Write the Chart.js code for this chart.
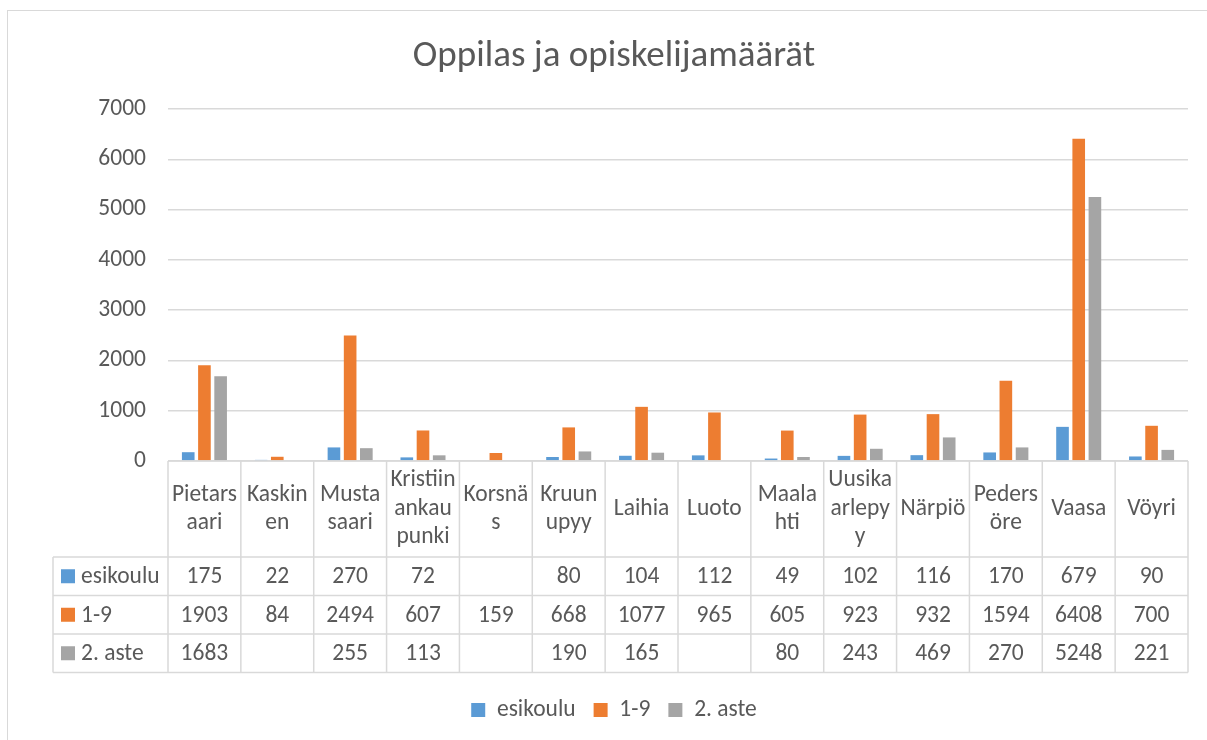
<!DOCTYPE html>
<html>
<head>
<meta charset="utf-8">
<title>Oppilas ja opiskelijamäärät</title>
<script src="https://cdn.jsdelivr.net/npm/chart.js@4.4.0/dist/chart.umd.min.js"></script>
<style>
  html, body { margin: 0; padding: 0; background: #fff; overflow: hidden; width: 1207px; height: 740px; }
  #frame { position: absolute; left: 7px; top: 10px; width: 1212px; height: 760px; border: 1px solid #d9d9d9; }
  #chart { position: absolute; left: 0; top: 0; }
</style>
</head>
<body>
<div id="frame"><canvas id="chart" width="1212" height="729"></canvas></div>
<script>
const categories = [
  ['Pietars', 'aari'], ['Kaskin', 'en'], ['Musta', 'saari'], ['Kristiin', 'ankau', 'punki'],
  ['Korsnä', 's'], ['Kruun', 'upyy'], ['Laihia'], ['Luoto'], ['Maala', 'hti'],
  ['Uusika', 'arlepy', 'y'], ['Närpiö'], ['Peders', 'öre'], ['Vaasa'], ['Vöyri']
];
const seriesNames = ['esikoulu', '1-9', '2. aste'];
const esikoulu = [175, 22, 270, 72, null, 80, 104, 112, 49, 102, 116, 170, 679, 90];
const luokat19 = [1903, 84, 2494, 607, 159, 668, 1077, 965, 605, 923, 932, 1594, 6408, 700];
const toinenAste = [1683, null, 255, 113, null, 190, 165, null, 80, 243, 469, 270, 5248, 221];
const yTicks = [0, 1000, 2000, 3000, 4000, 5000, 6000, 7000];
const colors = ['#5B9BD5', '#ED7D31', '#A5A5A5'];

const TEXT = '#595959';
const LINE = '#d9d9d9';
const FONT = 'Calibri, Carlito, Lato, "Open Sans", sans-serif';
const FS = 23.5;

Chart.defaults.font.family = FONT;
Chart.defaults.font.size = FS;
Chart.defaults.color = TEXT;

// --- data table under the plot, columns follow the x scale ---
const dataTable = {
  id: 'dataTable',
  afterDraw(chart) {
    const { ctx, chartArea } = chart;
    const x = chart.scales.x;
    const n = categories.length;
    const step = (x.right - x.left) / n;
    const top = chartArea.bottom;
    const headBottom = top + 96;
    const rowH = 38.5;
    const tableLeft = 45;
    const bottom = headBottom + rowH * seriesNames.length;
    const rows = [esikoulu, luokat19, toinenAste];

    ctx.save();
    ctx.strokeStyle = LINE;
    ctx.lineWidth = 1.5;
    ctx.beginPath();
    ctx.moveTo(x.left, top); ctx.lineTo(x.right, top);
    for (let r = 0; r <= rows.length; r++) {
      const y = headBottom + r * rowH;
      ctx.moveTo(tableLeft, y); ctx.lineTo(x.right, y);
    }
    for (let i = 0; i <= n; i++) {
      const px = x.left + i * step;
      ctx.moveTo(px, top); ctx.lineTo(px, bottom);
    }
    ctx.moveTo(tableLeft, headBottom); ctx.lineTo(tableLeft, bottom);
    ctx.stroke();

    ctx.fillStyle = TEXT;
    ctx.font = FS + 'px ' + FONT;
    ctx.textAlign = 'center';
    ctx.textBaseline = 'middle';
    const lh = 28.5;
    const mid = (top + headBottom) / 2;
    categories.forEach((lines, i) => {
      const cx = x.getPixelForValue(i);
      lines.forEach((t, k) => {
        ctx.fillText(t, cx, mid + (k - (lines.length - 1) / 2) * lh);
      });
    });

    rows.forEach((vals, r) => {
      const cy = headBottom + r * rowH + rowH / 2;
      ctx.fillStyle = colors[r];
      ctx.fillRect(tableLeft + 8, cy - 7, 14, 14);
      ctx.fillStyle = TEXT;
      ctx.textAlign = 'left';
      ctx.fillText(seriesNames[r], tableLeft + 28, cy + 1);
      ctx.textAlign = 'center';
      vals.forEach((v, i) => {
        if (v !== null) ctx.fillText(String(v), x.getPixelForValue(i), cy + 1);
      });
    });
    ctx.restore();
  }
};

const chart = new Chart(document.getElementById('chart'), {
  type: 'bar',
  data: {
    labels: categories,
    datasets: [
      { label: seriesNames[0], data: esikoulu, backgroundColor: colors[0] },
      { label: seriesNames[1], data: luokat19, backgroundColor: colors[1] },
      { label: seriesNames[2], data: toinenAste, backgroundColor: colors[2] }
    ]
  },
  options: {
    responsive: false,
    animation: false,
    devicePixelRatio: 1,
    categoryPercentage: 0.667,
    barPercentage: 0.78,
    layout: { padding: { left: 32, right: 32, top: 0, bottom: 8.25 } },
    plugins: {
      title: {
        display: true,
        text: 'Oppilas ja opiskelijamäärät',
        color: TEXT,
        font: { size: 37, weight: 'normal' },
        padding: { top: 23.8, bottom: 29.8 }
      },
      legend: {
        position: 'bottom',
        labels: { boxWidth: 14, boxHeight: 14, padding: 18, color: TEXT, font: { size: FS } }
      },
      tooltip: { enabled: false }
    },
    scales: {
      x: {
        grid: { display: false },
        border: { display: false },
        ticks: { display: false },
        afterFit(scale) { scale.height = 219.25; }
      },
      y: {
        min: 0,
        max: yTicks[yTicks.length - 1],
        afterBuildTicks(scale) { scale.ticks = yTicks.map(v => ({ value: v })); },
        grid: { color: LINE, lineWidth: 1.5, drawTicks: false },
        border: { display: false },
        ticks: { padding: 22, color: TEXT, font: { size: FS }, callback: v => String(v) },
        afterFit(scale) { scale.width = 128; }
      }
    }
  },
  plugins: [dataTable]
});
</script>
</body>
</html>
